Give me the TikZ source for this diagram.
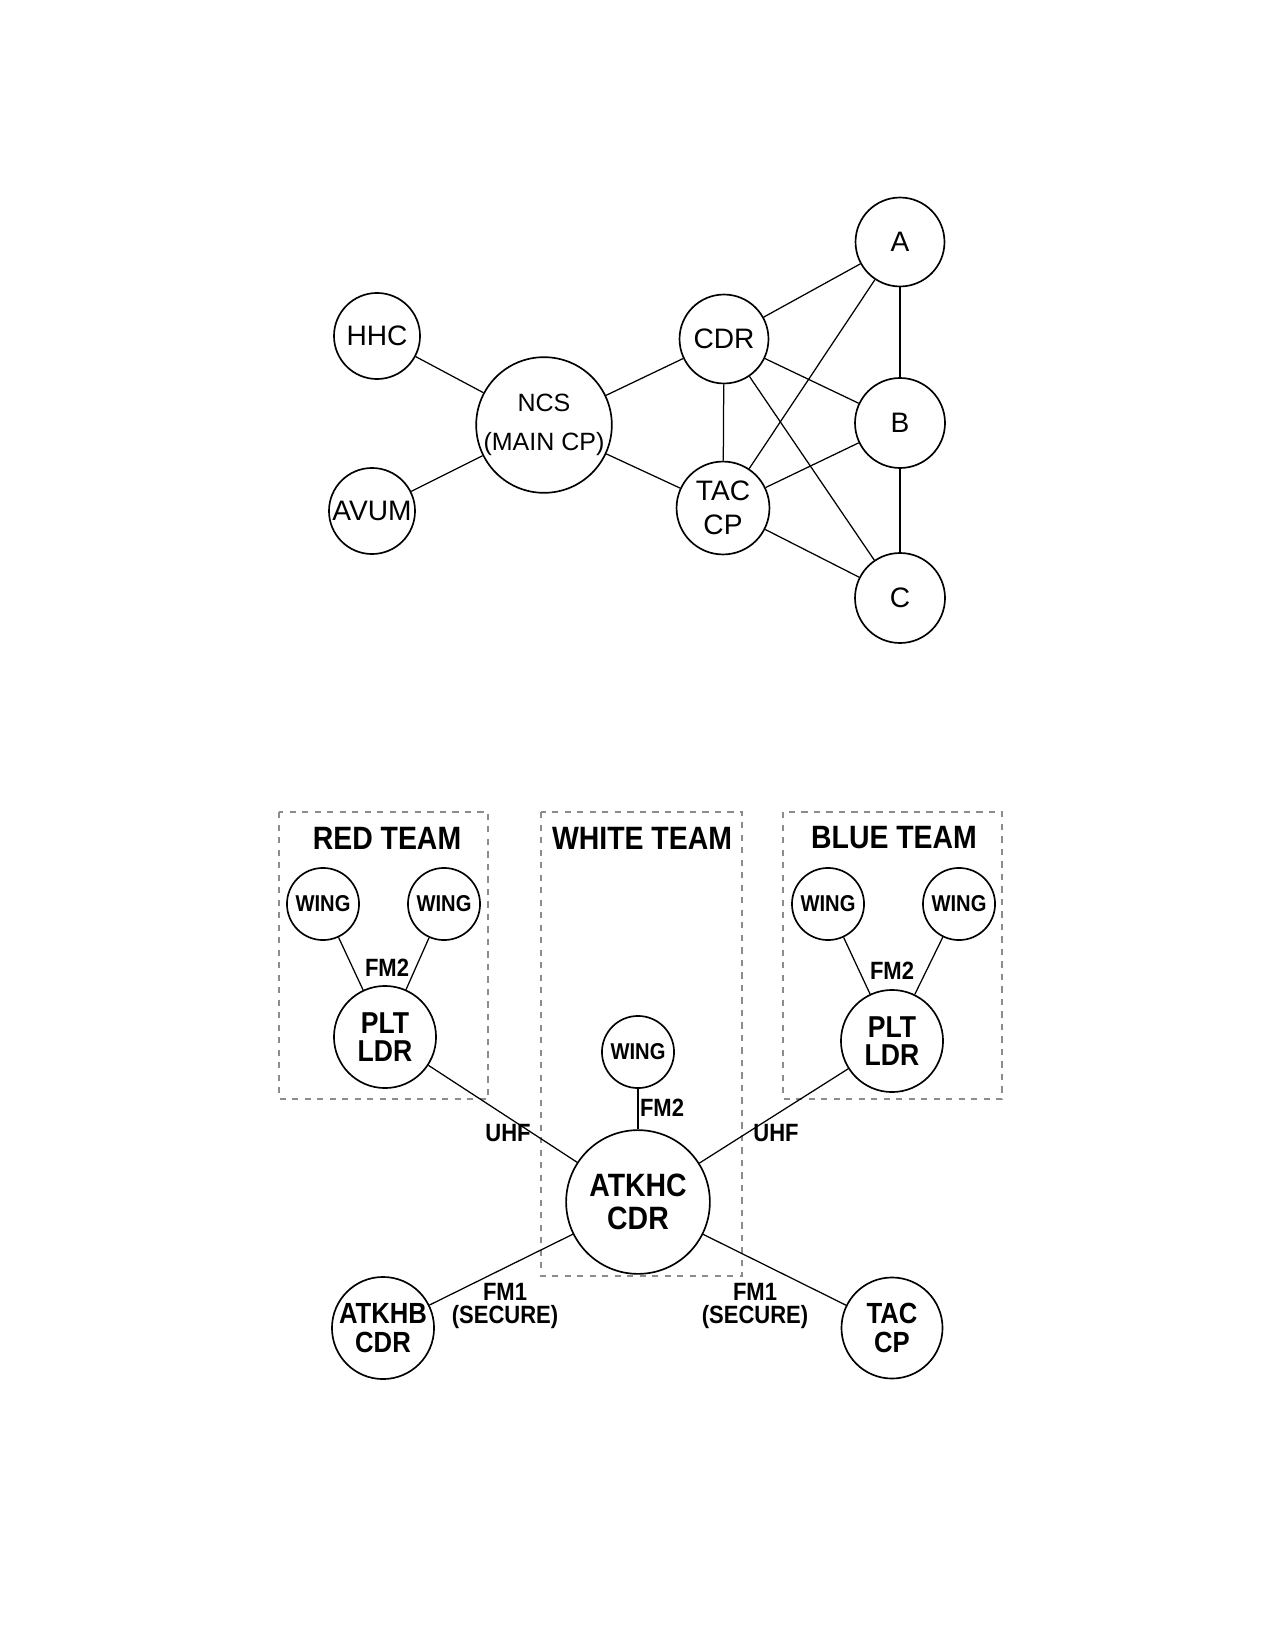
\documentclass[tikz,border=0pt]{standalone}
\usepackage{fontspec}
\setmainfont{Liberation Sans}
\newfontfamily\narrowsans[FakeStretch=0.88]{Liberation Sans}
\usetikzlibrary{positioning}

\tikzset{
  stn/.style={draw,circle,line width=0.8pt,inner sep=0pt,align=center,
    font=\fontsize{13.5}{16.2}\selectfont},
  net/.style={draw,circle,line width=0.8pt,inner sep=0pt,align=center,
    font=\narrowsans\bfseries\fontsize{14.5}{13.4}\selectfont},
  wingnode/.style={net,minimum size=34.6pt,font=\narrowsans\bfseries\fontsize{11}{12}\selectfont},
  freq/.style={align=center,inner sep=0pt,
    font=\narrowsans\bfseries\fontsize{12}{11}\selectfont},
  teambox/.style={draw=black!45,dashed,line width=0.5pt},
  teamname/.style={inner sep=0pt,font=\narrowsans\bfseries\fontsize{15.5}{17}\selectfont},
  link/.style={line width=0.6pt}
}

\begin{document}
\begin{tikzpicture}[x=0.48pt,y=-0.48pt]
\useasboundingbox (0,0) rectangle (1275,1650);

% net of the main CP
\node[stn,minimum size=41.3pt] (hhc) at (377,336) {HHC};
\node[stn,minimum size=41.3pt] (avum) at (372,511) {AVUM};
\node[stn,minimum size=61.4pt,font=\fontsize{12}{18.7}\selectfont] (ncs) at (544,425) {NCS\\(MAIN CP)};
\node[stn,minimum size=42.7pt] (cdr) at (724,339) {CDR};
\node[stn,minimum size=44.6pt] (tac) at (723,508) {TAC\\CP};
\node[stn,minimum size=42.7pt] (a) at (900,242) {A};
\node[stn,minimum size=43.2pt] (b) at (900,423) {B};
\node[stn,minimum size=43.2pt] (c) at (900,598) {C};

\draw[link] (hhc)--(ncs);
\draw[link] (avum)--(ncs);
\draw[link] (ncs)--(cdr);
\draw[link] (ncs)--(tac);
\draw[link] (cdr)--(a);
\draw[link] (cdr)--(tac);
\draw[link] (cdr)--(b);
\draw[link] (cdr)--(c);
\draw[link] (tac)--(a);
\draw[link] (tac)--(b);
\draw[link] (tac)--(c);
\draw[link] (a)--(b);
\draw[link] (b)--(c);

% teams
\draw[teambox] (279,812) rectangle (488,1099);
\draw[teambox] (541,812) rectangle (742,1276);
\draw[teambox] (783,812) rectangle (1002,1099);
\node[teamname] (redt) at (387,838) {RED TEAM};
\node[teamname] (whitet) at (642,838) {WHITE TEAM};
\node[teamname] (bluet) at (894,838) {BLUE TEAM};

\node[wingnode] (rw1) at (323,904) {WING};
\node[wingnode] (rw2) at (444,904) {WING};
\node[net,minimum size=49pt] (rplt) at (385,1037) {PLT\\LDR};
\node[wingnode] (bw1) at (828,904) {WING};
\node[wingnode] (bw2) at (959,904) {WING};
\node[net,minimum size=49pt] (bplt) at (892,1041) {PLT\\LDR};
\node[wingnode] (ww) at (638,1052) {WING};
\node[net,minimum size=69pt,font=\narrowsans\bfseries\fontsize{15.5}{15.7}\selectfont] (atkhc) at (638,1202) {ATKHC\\CDR};
\node[net,minimum size=49pt,font=\narrowsans\bfseries\fontsize{14}{13.6}\selectfont] (atkhb) at (383,1328) {ATKHB\\CDR};
\node[net,minimum size=48.5pt,font=\narrowsans\bfseries\fontsize{14}{13.6}\selectfont] (tacb) at (892,1328) {TAC\\CP};

\draw[link] (rw1)--(rplt);
\draw[link] (rw2)--(rplt);
\draw[link] (bw1)--(bplt);
\draw[link] (bw2)--(bplt);
\draw[link] (rplt)--(atkhc);
\draw[link] (bplt)--(atkhc);
\draw[link] (ww)--(atkhc);
\draw[link] (atkhc)--(atkhb);
\draw[link] (atkhc)--(tacb);

\node[freq] (fm2r) at (387,968) {FM2};
\node[freq] (fm2b) at (892,971) {FM2};
\node[freq] (fm2w) at (662,1108) {FM2};
\node[freq] (uhfl) at (508,1133) {UHF};
\node[freq] (uhfr) at (776,1133) {UHF};
\node[freq] (fm1l) at (505,1306) {FM1\\(SECURE)};
\node[freq] (fm1r) at (755,1306) {FM1\\(SECURE)};
\end{tikzpicture}
\end{document}
